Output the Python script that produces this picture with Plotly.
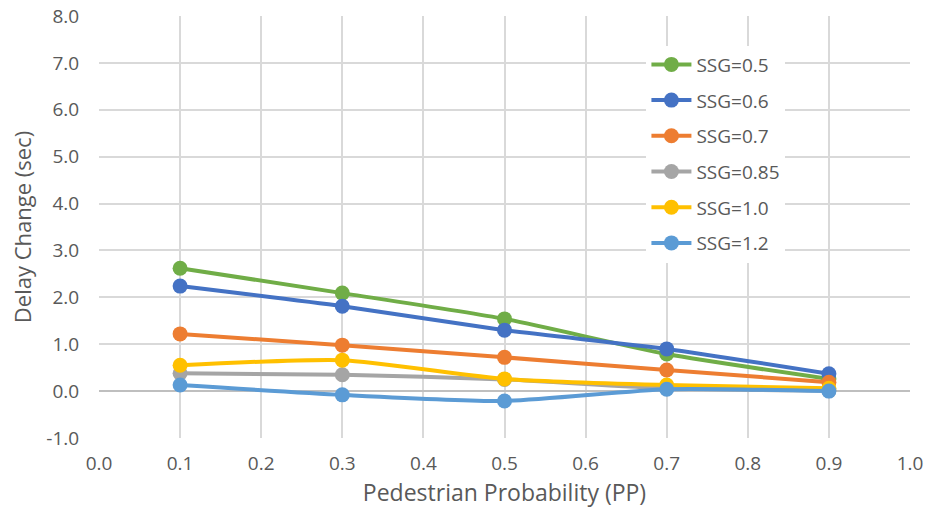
import plotly.graph_objects as go

pp = [0.1, 0.3, 0.5, 0.7, 0.9]

series_names = ["SSG=0.5", "SSG=0.6", "SSG=0.7", "SSG=0.85", "SSG=1.0", "SSG=1.2"]
ssg_05 = [2.62, 2.09, 1.54, 0.79, 0.26]
ssg_06 = [2.24, 1.81, 1.30, 0.90, 0.37]
ssg_07 = [1.22, 0.98, 0.72, 0.45, 0.19]
ssg_085 = [0.38, 0.35, 0.25, 0.06, 0.01]
ssg_10 = [0.55, 0.66, 0.26, 0.13, 0.06]
ssg_12 = [0.13, -0.08, -0.21, 0.04, 0.0]
series_values = [ssg_05, ssg_06, ssg_07, ssg_085, ssg_10, ssg_12]
colors = ["#70ad47", "#4472c4", "#ed7d31", "#a5a5a5", "#ffc000", "#5b9bd5"]

tick_vals_x = [i / 10 for i in range(11)]
tick_text_x = [f"{v:.1f}" for v in tick_vals_x]
tick_vals_y = list(range(-1, 9))
tick_text_y = [f"{v:.1f}" for v in tick_vals_y]  # plain hyphen for negatives

font_family = "'Open Sans', sans-serif"
text_color = "#595959"
grid_color = "#d9d9d9"

fig = go.Figure()
# later series are drawn on top of earlier ones
for name, vals, col in zip(series_names, series_values, colors):
    fig.add_trace(go.Scatter(
        x=pp, y=vals, name=name, legendgroup=name,
        mode="lines+markers",
        line=dict(color=col, width=4, shape="spline", smoothing=0.6),
        marker=dict(color=col, size=15),
    ))

fig.update_layout(
    width=926, height=520,
    margin=dict(l=99, r=16, t=16, b=82),
    paper_bgcolor="white", plot_bgcolor="white",
    font=dict(family=font_family, color=text_color, size=19),
    legend=dict(
        x=0.675, y=0.93, xanchor="left", yanchor="top",
        bgcolor="white", traceorder="grouped",
        tracegroupgap=8, font=dict(size=19, color=text_color),
        itemwidth=40,
    ),
    xaxis=dict(
        range=[0, 1], tickvals=tick_vals_x, ticktext=tick_text_x,
        showgrid=True, gridcolor=grid_color, gridwidth=1.5,
        zeroline=False, showline=False,
        ticks="outside", ticklen=8, tickcolor="rgba(0,0,0,0)",
        automargin=False,
        title=dict(text="Pedestrian Probability (PP)", font=dict(size=23, color=text_color), standoff=10),
        tickfont=dict(size=19, color=text_color),
    ),
    yaxis=dict(
        range=[-1, 8], tickvals=tick_vals_y, ticktext=tick_text_y,
        showgrid=True, gridcolor=grid_color, gridwidth=1.5,
        zeroline=True, zerolinecolor="#bfbfbf", zerolinewidth=1.5,
        showline=False,
        ticks="outside", ticklen=15, tickcolor="rgba(0,0,0,0)",
        automargin=False,
        title=dict(text="Delay Change (sec)", font=dict(size=22, color=text_color), standoff=8),
        tickfont=dict(size=19, color=text_color),
    ),
)

fig.write_html("out.html")
